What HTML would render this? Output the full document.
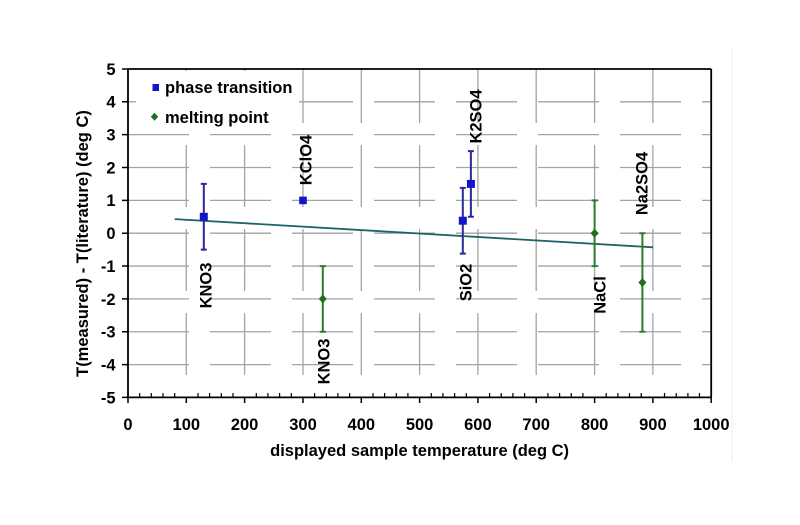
<!DOCTYPE html>
<html>
<head>
<meta charset="utf-8">
<style>
  html, body { margin:0; padding:0; background:#ffffff; }
  svg { display:block; }
  text { font-family:"Liberation Sans", Arial, sans-serif; font-weight:bold; fill:#000; }
</style>
</head>
<body>
<svg width="800" height="525" viewBox="0 0 800 525" xmlns="http://www.w3.org/2000/svg">
  <rect x="0" y="0" width="800" height="525" fill="#ffffff"/>
  <!-- faint right frame line -->
  <line x1="732" y1="47" x2="732" y2="462" stroke="#eeeeee" stroke-width="1"/>

  <!-- horizontal gridlines -->
  <g stroke="#a3a3a3" stroke-width="1.3" stroke-dasharray="61 21">
    <line x1="128" y1="101.8" x2="711" y2="101.8"/>
    <line x1="128" y1="134.65" x2="711" y2="134.65"/>
    <line x1="128" y1="167.5" x2="711" y2="167.5"/>
    <line x1="128" y1="200.35" x2="711" y2="200.35"/>
    <line x1="128" y1="233.2" x2="711" y2="233.2"/>
    <line x1="128" y1="266.05" x2="711" y2="266.05"/>
    <line x1="128" y1="298.9" x2="711" y2="298.9"/>
    <line x1="128" y1="331.75" x2="711" y2="331.75"/>
    <line x1="128" y1="364.6" x2="711" y2="364.6"/>
  </g>
  <!-- vertical gridlines -->
  <g stroke="#a3a3a3" stroke-width="1.3" stroke-dasharray="62 22" stroke-dashoffset="62">
    <line x1="186.3" y1="397" x2="186.3" y2="69"/>
    <line x1="244.6" y1="397" x2="244.6" y2="69"/>
    <line x1="303" y1="397" x2="303" y2="69"/>
    <line x1="361.3" y1="397" x2="361.3" y2="69"/>
    <line x1="419.6" y1="397" x2="419.6" y2="69"/>
    <line x1="477.9" y1="397" x2="477.9" y2="69"/>
    <line x1="536.2" y1="397" x2="536.2" y2="69"/>
    <line x1="594.6" y1="397" x2="594.6" y2="69"/>
    <line x1="652.9" y1="397" x2="652.9" y2="69"/>
  </g>

  <!-- legend background -->
  <rect x="136" y="71" width="163" height="60" fill="#ffffff"/>

  <!-- axes frame -->
  <g stroke="#000" stroke-width="1.8" fill="none">
    <line x1="128" y1="69" x2="711.2" y2="69"/>
    <line x1="711.2" y1="69" x2="711.2" y2="397.4"/>
    <line x1="128" y1="69" x2="128" y2="397.4"/>
    <line x1="127" y1="397.4" x2="712" y2="397.4"/>
  </g>
  <!-- y ticks -->
  <path stroke="#000" stroke-width="1.5" fill="none" d="
    M122 69H128 M122 101.8H128 M122 134.65H128 M122 167.5H128 M122 200.35H128 M122 233.2H128
    M122 266.05H128 M122 298.9H128 M122 331.75H128 M122 364.6H128 M122 397.4H128"/>
  <!-- x major ticks -->
  <path stroke="#000" stroke-width="1.5" fill="none" d="
    M128 397V403 M186.3 397V403 M244.6 397V403 M303 397V403 M361.3 397V403 M419.6 397V403
    M477.9 397V403 M536.2 397V403 M594.6 397V403 M652.9 397V403 M711.2 397V403"/>
  <!-- x minor ticks -->
  <path stroke="#000" stroke-width="1.2" fill="none" d="
    M139.7 393V397 M151.3 393V397 M163 393V397 M174.7 393V397
    M198 393V397 M209.6 393V397 M221.3 393V397 M233 393V397
    M256.3 393V397 M267.9 393V397 M279.6 393V397 M291.3 393V397
    M314.6 393V397 M326.3 393V397 M337.9 393V397 M349.6 393V397
    M373 393V397 M384.6 393V397 M396.3 393V397 M407.9 393V397
    M431.3 393V397 M442.9 393V397 M454.6 393V397 M466.3 393V397
    M489.6 393V397 M501.2 393V397 M512.9 393V397 M524.6 393V397
    M547.9 393V397 M559.6 393V397 M571.2 393V397 M582.9 393V397
    M606.2 393V397 M617.9 393V397 M629.5 393V397 M641.2 393V397
    M664.5 393V397 M676.2 393V397 M687.9 393V397 M699.5 393V397"/>

  <!-- y tick labels -->
  <g font-size="16.5" text-anchor="end">
    <text x="115.5" y="74.9">5</text>
    <text x="115.5" y="107.7">4</text>
    <text x="115.5" y="140.5">3</text>
    <text x="115.5" y="173.4">2</text>
    <text x="115.5" y="206.2">1</text>
    <text x="115.5" y="239.1">0</text>
    <text x="115.5" y="271.9">-1</text>
    <text x="115.5" y="304.8">-2</text>
    <text x="115.5" y="337.6">-3</text>
    <text x="115.5" y="370.5">-4</text>
    <text x="115.5" y="403.3">-5</text>
  </g>
  <!-- x tick labels -->
  <g font-size="16.5" text-anchor="middle">
    <text x="128" y="430">0</text>
    <text x="186.3" y="430">100</text>
    <text x="244.6" y="430">200</text>
    <text x="303" y="430">300</text>
    <text x="361.3" y="430">400</text>
    <text x="419.6" y="430">500</text>
    <text x="477.9" y="430">600</text>
    <text x="536.2" y="430">700</text>
    <text x="594.6" y="430">800</text>
    <text x="652.9" y="430">900</text>
    <text x="711.2" y="430">1000</text>
  </g>

  <!-- axis titles -->
  <text x="419.6" y="456" font-size="16.5" text-anchor="middle">displayed sample temperature (deg C)</text>
  <text transform="translate(88.2,243.5) rotate(-90)" font-size="16.5" text-anchor="middle">T(measured) - T(literature) (deg C)</text>

  <!-- legend -->
  <rect x="152.5" y="84" width="6.5" height="7" fill="#1414c8"/>
  <text x="165" y="93.2" font-size="16.5">phase transition</text>
  <polygon points="154.5,112.8 158.2,116.8 154.5,120.8 150.8,116.8" fill="#1e6e1e"/>
  <text x="165" y="123.2" font-size="16.5">melting point</text>

  <!-- trend line -->
  <line x1="174.7" y1="219.1" x2="653" y2="247.3" stroke="#1f6464" stroke-width="1.8"/>

  <!-- blue error bars -->
  <g stroke="#2a2a9c" stroke-width="2" fill="none">
    <path d="M203.8 183.9V249.6 M200.8 183.9H206.8 M200.8 249.6H206.8"/>
    <path d="M462.8 187.9V253.6 M459.8 187.9H465.8 M459.8 253.6H465.8"/>
    <path d="M470.9 151.1V216.8 M467.9 151.1H473.9 M467.9 216.8H473.9"/>
  </g>
  <!-- green error bars -->
  <g stroke="#2f7a2f" stroke-width="2" fill="none">
    <path d="M322.8 266.1V331.8 M319.8 266.1H325.8 M319.8 331.8H325.8"/>
    <path d="M594.6 200.4V266.1 M591.6 200.4H597.6 M591.6 266.1H597.6"/>
    <path d="M642.4 233.2V331.8 M639.4 233.2H645.4 M639.4 331.8H645.4"/>
  </g>

  <!-- blue squares -->
  <g fill="#1414c8">
    <rect x="199.8" y="212.8" width="8" height="8"/>
    <rect x="299.2" y="196.6" width="7.6" height="7.6"/>
    <rect x="458.8" y="216.7" width="8" height="8"/>
    <rect x="466.9" y="179.9" width="8" height="8"/>
  </g>
  <!-- green diamonds -->
  <g fill="#1e6e1e">
    <polygon points="322.8,294.4 326.8,298.9 322.8,303.4 318.8,298.9"/>
    <polygon points="594.6,228.7 598.6,233.2 594.6,237.7 590.6,233.2"/>
    <polygon points="642.4,278 646.4,282.5 642.4,287 638.4,282.5"/>
  </g>

  <!-- data labels -->
  <g font-size="16.5" text-anchor="middle">
    <text transform="translate(211.6,285.5) rotate(-90)">KNO3</text>
    <text transform="translate(311.3,160) rotate(-90)">KClO4</text>
    <text transform="translate(329.7,361.5) rotate(-90)">KNO3</text>
    <text transform="translate(471.5,282.5) rotate(-90)">SiO2</text>
    <text transform="translate(481.5,116.5) rotate(-90)">K2SO4</text>
    <text transform="translate(605.6,295) rotate(-90)">NaCl</text>
    <text transform="translate(647.6,183.5) rotate(-90)">Na2SO4</text>
  </g>
</svg>
</body>
</html>
